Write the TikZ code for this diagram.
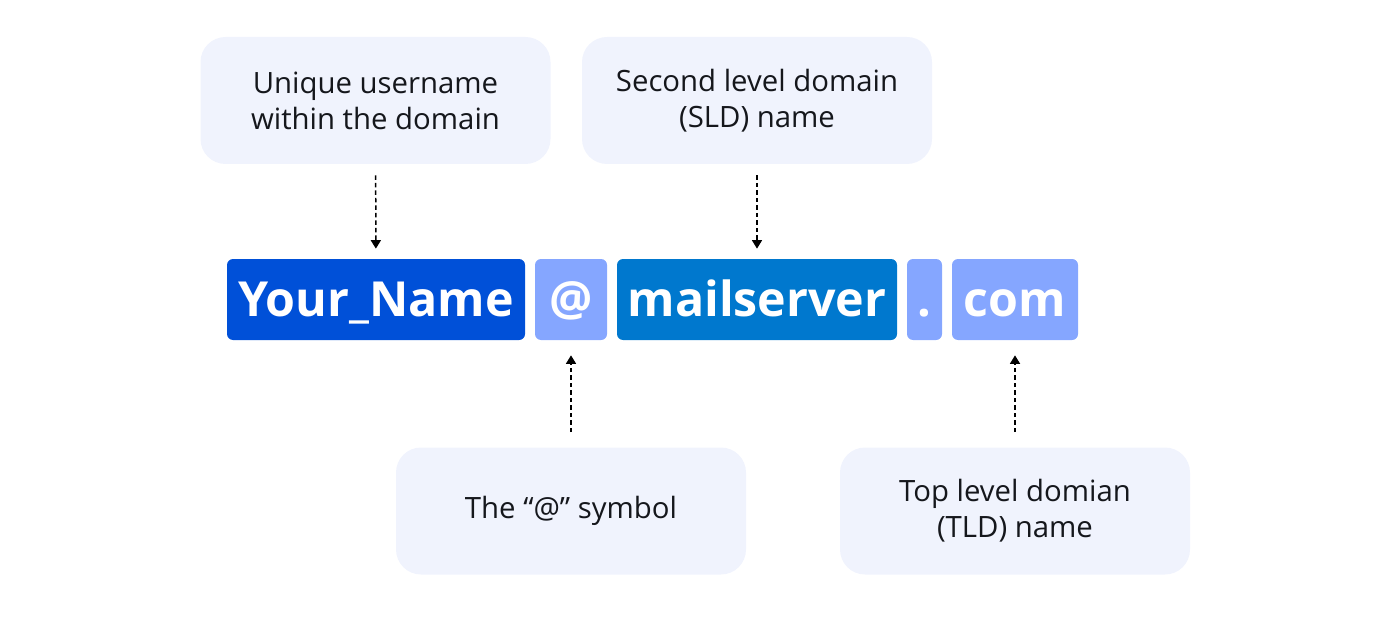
\documentclass[tikz,border=0pt]{standalone}
\usepackage{fontspec}
\setmainfont{Open Sans}
\usetikzlibrary{arrows.meta}
\definecolor{labelfill}{HTML}{F0F3FD}
\definecolor{userblue}{HTML}{0050D8}
\definecolor{serverblue}{HTML}{0078CE}
\definecolor{lightblue}{HTML}{85A6FF}
\definecolor{inktext}{HTML}{15171C}

\begin{document}
\begin{tikzpicture}[x=1cm,y=1cm]
\tikzset{
  labelbox/.style={rounded corners=0.5cm,fill=labelfill,minimum width=7cm,minimum height=2.54cm,
    align=center,font=\fontsize{16.7}{20.5}\selectfont,text=inktext},
  partbox/.style={rounded corners=0.12cm,minimum height=1.62cm,inner sep=0pt,
    text height=0.69cm,text depth=0cm,text=white,font=\fontsize{27.5}{30}\selectfont\bfseries},
  pointer/.style={-{Triangle[width=2mm,length=1.7mm]},line width=0.85pt,dash pattern=on 0.09cm off 0.06cm}
}
\useasboundingbox (0,0) rectangle (27.8,-12.62);
% parts of the address
\node[partbox,fill=userblue,minimum width=5.96cm] (p_user) at (7.52,-5.99) {Your\_Name};
\node[partbox,fill=lightblue,minimum width=1.44cm] (p_at) at (11.42,-5.99) {@};
\node[partbox,fill=serverblue,minimum width=5.6cm] (p_sld) at (15.14,-5.99) {mailserver};
\node[partbox,fill=lightblue,minimum width=0.7cm] (p_dot) at (18.49,-5.99) {.};
\node[partbox,fill=lightblue,minimum width=2.52cm] (p_tld) at (20.30,-5.99) {com};
% explanations
\node[labelbox] (l_user) at (7.51,-2.01) {Unique username\\within the domain};
\node[labelbox] (l_sld) at (15.14,-2.01) {Second level domain\\(SLD) name};
\node[labelbox] (l_at) at (11.42,-10.22) {The “@” symbol};
\node[labelbox] (l_tld) at (20.30,-10.22) {Top level domian\\(TLD) name};
% pointers
\draw[pointer,shorten <=0.22cm,shorten >=0.2cm] (l_user) -- (p_user);
\draw[pointer,shorten <=0.22cm,shorten >=0.2cm] (l_sld) -- (p_sld);
\draw[pointer,shorten <=0.3cm,shorten >=0.3cm] (l_at) -- (p_at);
\draw[pointer,shorten <=0.3cm,shorten >=0.3cm] (l_tld) -- (p_tld);
\end{tikzpicture}
\end{document}
